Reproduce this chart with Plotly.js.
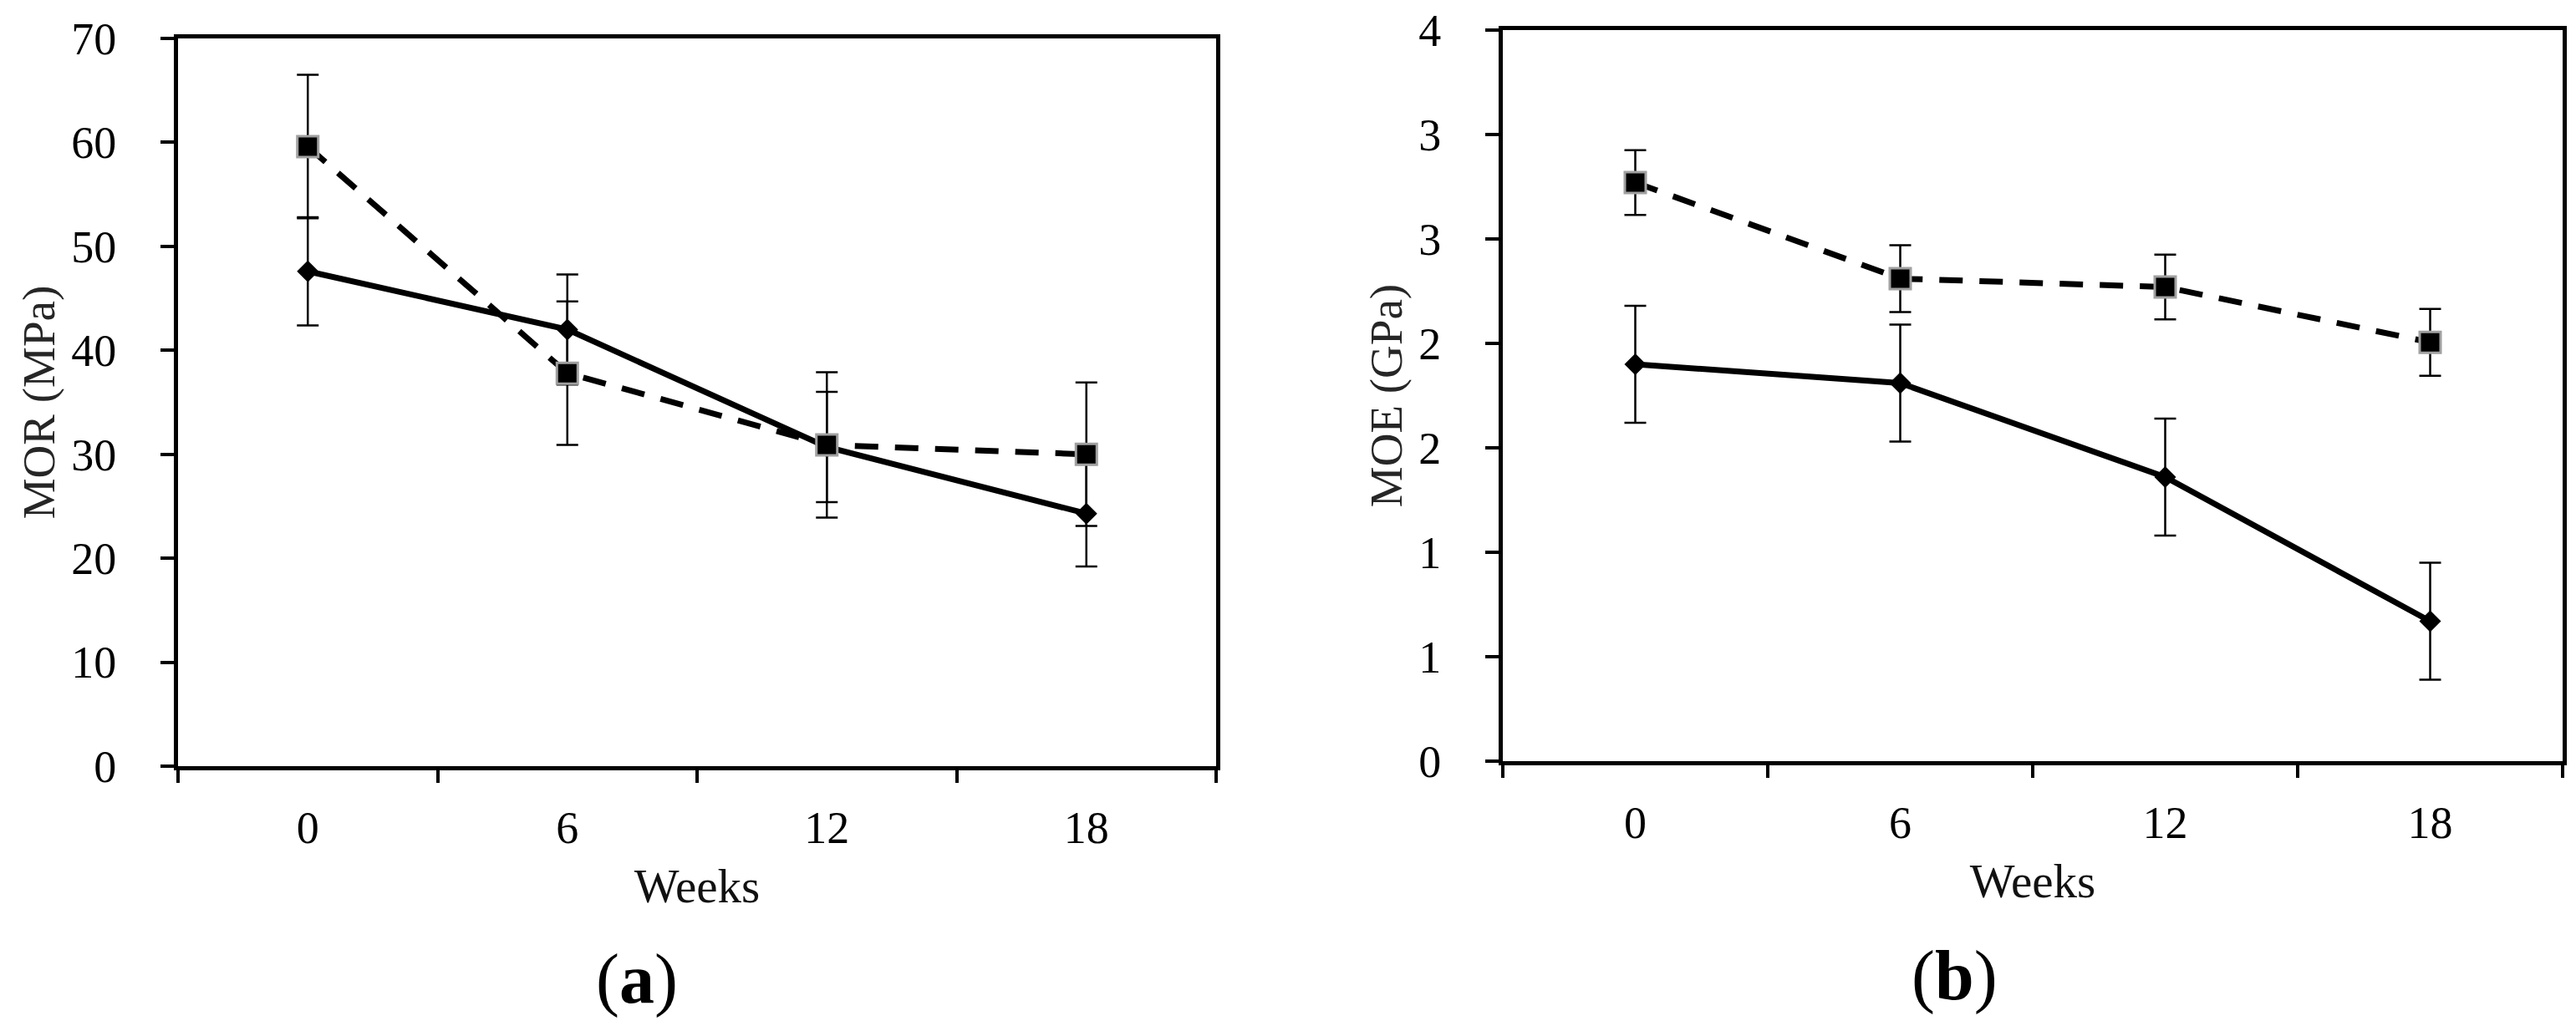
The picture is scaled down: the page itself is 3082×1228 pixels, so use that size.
<!DOCTYPE html>
<html>
<head>
<meta charset="utf-8">
<script src="https://cdn.plot.ly/plotly-3.0.1.min.js"></script>
<style>
  html, body { margin: 0; padding: 0; background: #fff; }
  #chart { width: 3082px; height: 1228px; }
</style>
</head>
<body>
<div id="chart"></div>
<script>
// weeks of exposure (category axis)
let weeks = ['0', '6', '12', '18'];

// (a) MOR in MPa
let morSolid = [47.6, 42.0, 30.7, 24.3];
let morSolidErr = [5.2, 5.3, 5.3, 5.1];
let morDashed = [59.6, 37.8, 30.9, 30.0];
let morDashedErr = [6.9, 6.9, 7.0, 6.9];

// (b) MOE in GPa
let moeSolid = [1.90, 1.81, 1.36, 0.67];
let moeSolidErr = [0.28, 0.28, 0.28, 0.28];
let moeDashed = [2.77, 2.31, 2.27, 2.005];
let moeDashedErr = [0.155, 0.16, 0.155, 0.16];

// tick labels on the MOE axis are rounded to whole numbers, as in the source
let moeTickVals = [0, 0.5, 1, 1.5, 2, 2.5, 3, 3.5];
let moeTickText = ['0', '1', '1', '2', '2', '3', '3', '4'];

let serif = 'Liberation Serif, Times New Roman, serif';

function solidTrace(y, err, xa, ya) {
  return {
    x: weeks, y: y, xaxis: xa, yaxis: ya,
    type: 'scatter', mode: 'lines+markers',
    line: { color: '#000', width: 7 },
    marker: { symbol: 'diamond', size: 20, color: '#000' },
    error_y: { type: 'data', array: err, color: '#000', thickness: 2.5, width: 13 },
    showlegend: false
  };
}

function dashedTrace(y, err, xa, ya) {
  return {
    x: weeks, y: y, xaxis: xa, yaxis: ya,
    type: 'scatter', mode: 'lines+markers',
    line: { color: '#000', width: 7, dash: '28px,20px' },
    marker: { symbol: 'square', size: 25, color: '#000', line: { color: '#a0a0a0', width: 3 } },
    error_y: { type: 'data', array: err, color: '#000', thickness: 2.5, width: 13 },
    showlegend: false
  };
}

let data = [
  solidTrace(morSolid, morSolidErr, 'x', 'y'),
  dashedTrace(morDashed, morDashedErr, 'x', 'y'),
  solidTrace(moeSolid, moeSolidErr, 'x2', 'y2'),
  dashedTrace(moeDashed, moeDashedErr, 'x2', 'y2')
];

function xAxis(domain, anchor) {
  return {
    domain: domain, anchor: anchor,
    type: 'category', range: [-0.5, 3.5],
    tickson: 'boundaries',
    ticks: 'outside', ticklen: 15, tickwidth: 4, tickcolor: '#000',
    ticklabelstandoff: 22,
    showline: true, linewidth: 5, linecolor: '#000', mirror: true,
    showgrid: false, zeroline: false,
    tickfont: { family: serif, size: 54, color: '#000' },
    title: { text: 'Weeks', standoff: 22, font: { family: serif, size: 57, color: '#111' } }
  };
}

function yAxis(domain, anchor, title) {
  return {
    domain: domain, anchor: anchor,
    ticks: 'outside', ticklen: 16, tickwidth: 4, tickcolor: '#000',
    ticklabelstandoff: 42,
    showline: true, linewidth: 5, linecolor: '#000', mirror: true,
    showgrid: false, zeroline: false,
    tickfont: { family: serif, size: 54, color: '#000' },
    title: { text: title, standoff: 3, font: { family: serif, size: 55, color: '#262626' } }
  };
}

let layout = {
  width: 3082,
  height: 1228,
  margin: { l: 0, r: 0, t: 0, b: 0 },
  paper_bgcolor: '#fff',
  plot_bgcolor: '#fff',
  showlegend: false,
  xaxis: xAxis([213 / 3082, 1455 / 3082], 'y'),
  yaxis: Object.assign(yAxis([1 - 917 / 1228, 1 - 46 / 1228], 'x', 'MOR (MPa)'),
    { range: [0, 70], dtick: 10, tick0: 0 }),
  xaxis2: xAxis([1798 / 3082, 3066 / 3082], 'y2'),
  yaxis2: Object.assign(yAxis([1 - 911 / 1228, 1 - 36 / 1228], 'x2', 'MOE (GPa)'),
    { range: [0, 3.5], tickvals: moeTickVals, ticktext: moeTickText }),
  annotations: [
    {
      text: '(<b>a</b>)', xref: 'paper', yref: 'paper',
      x: 762 / 3082, y: 1 - 1172 / 1228, xanchor: 'center', yanchor: 'middle',
      showarrow: false, font: { family: serif, size: 84, color: '#000' }
    },
    {
      text: '(<b>b</b>)', xref: 'paper', yref: 'paper',
      x: 2338 / 3082, y: 1 - 1168 / 1228, xanchor: 'center', yanchor: 'middle',
      showarrow: false, font: { family: serif, size: 84, color: '#000' }
    }
  ]
};

Plotly.newPlot('chart', data, layout, { staticPlot: true });
</script>
</body>
</html>
